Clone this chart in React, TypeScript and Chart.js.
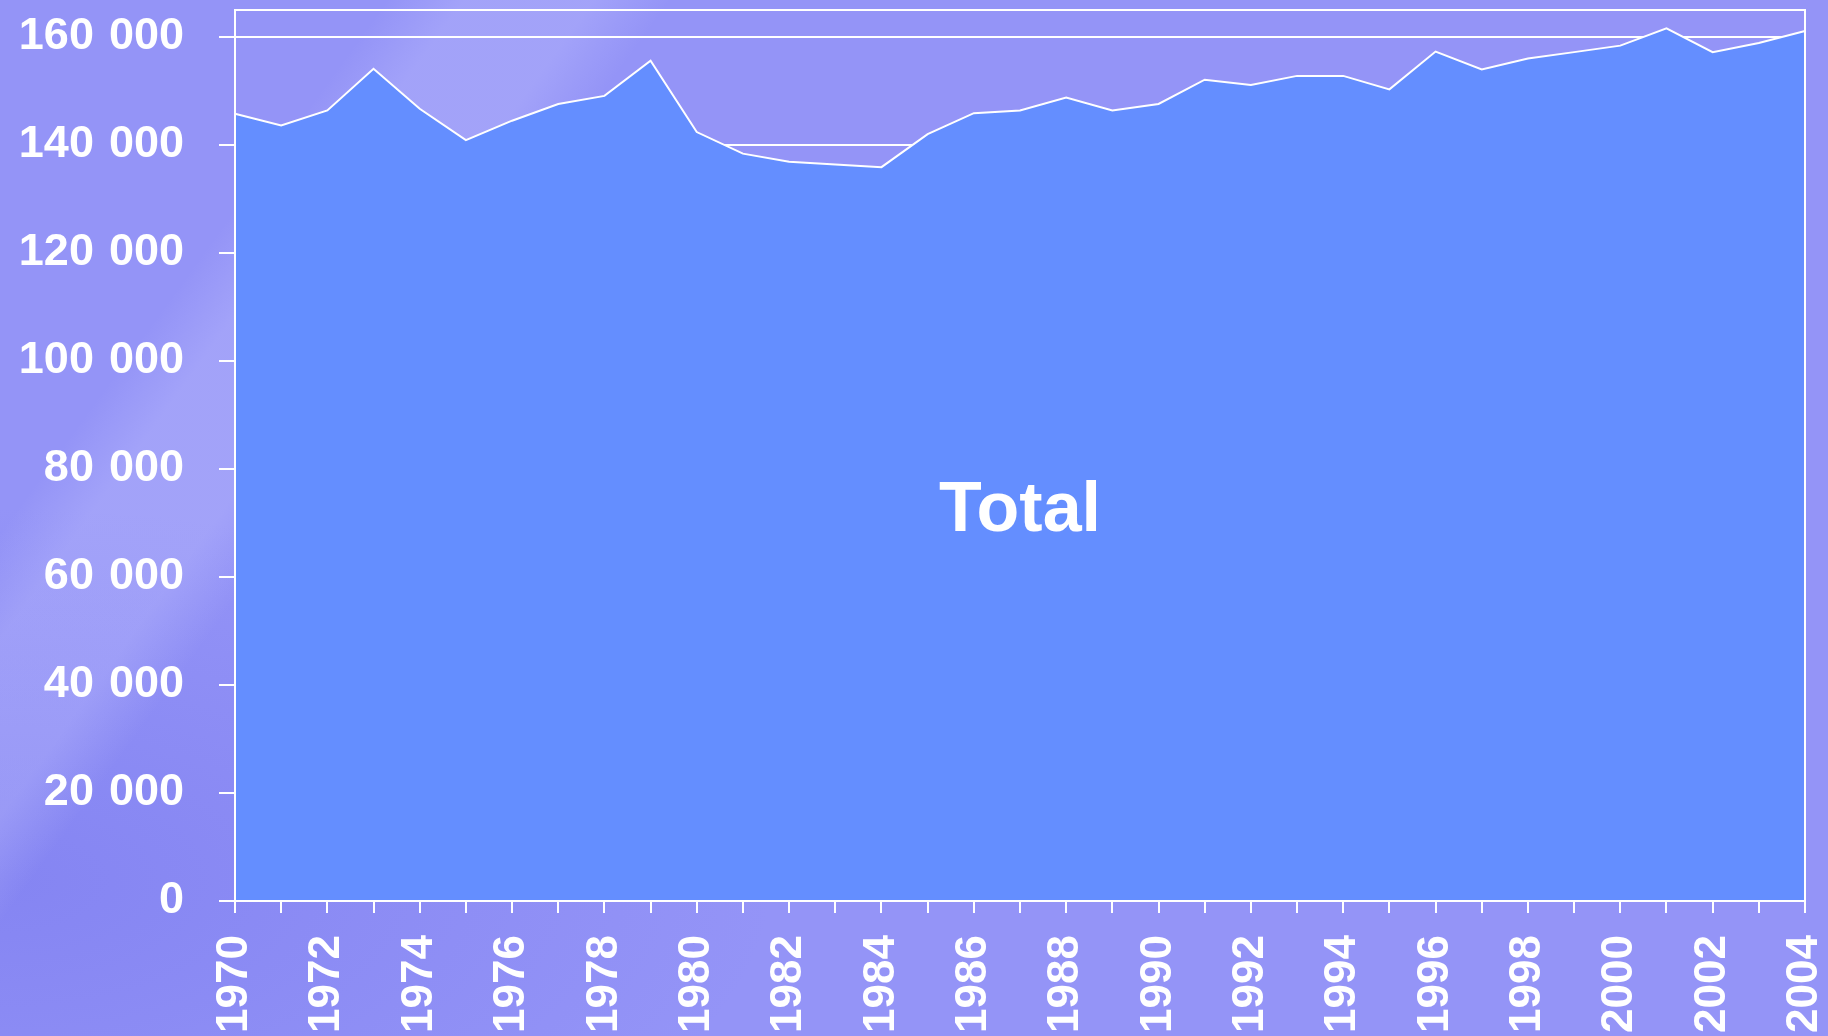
import React, { useEffect, useRef } from "react";
import { Chart, registerables } from "chart.js";

Chart.register(...registerables);

const years: string[] = [
  "1970", "1971", "1972", "1973", "1974", "1975", "1976", "1977", "1978", "1979",
  "1980", "1981", "1982", "1983", "1984", "1985", "1986", "1987", "1988", "1989",
  "1990", "1991", "1992", "1993", "1994", "1995", "1996", "1997", "1998", "1999",
  "2000", "2001", "2002", "2003", "2004",
];

const totalValues: number[] = [
  145800, 143600, 146400, 154100, 146700, 140900, 144500, 147600, 149100, 155600,
  142400, 138400, 136900, 136400, 135900, 142000, 145900, 146400, 148800, 146400,
  147600, 152100, 151100, 152800, 152800, 150300, 157300, 154000, 156000, 157200,
  158400, 161600, 157200, 158900, 161100,
];

const yTickValues: number[] = [0, 20000, 40000, 60000, 80000, 100000, 120000, 140000, 160000];

const seriesLabel = "Total";
const yMin = 0;
const yMax = 165000;

const FONT = '"Liberation Sans", Arial, Helvetica, sans-serif';

function formatThousands(v: number): string {
  return String(v).replace(/\B(?=(\d{3})+(?!\d))/g, "\u2004");
}

const framePlugin = {
  id: "frame",
  afterDraw(chart: any) {
    const { ctx, chartArea } = chart;
    ctx.save();
    ctx.strokeStyle = "#ffffff";
    ctx.lineWidth = 2;
    ctx.strokeRect(chartArea.left, chartArea.top, chartArea.right - chartArea.left, chartArea.bottom - chartArea.top);
    ctx.restore();
  },
};

const titlePlugin = {
  id: "centerTitle",
  afterDatasetsDraw(chart: any) {
    const { ctx, scales } = chart;
    const x = scales.x.getPixelForValue(17);
    const y = scales.y.getPixelForValue(68500);
    ctx.save();
    ctx.fillStyle = "#ffffff";
    ctx.font = `bold 70px ${FONT}`;
    ctx.textAlign = "center";
    ctx.textBaseline = "alphabetic";
    ctx.fillText(seriesLabel, x, y);
    ctx.restore();
  },
};

export default function App() {
  const canvasRef = useRef<HTMLCanvasElement | null>(null);

  useEffect(() => {
    document.body.style.margin = "0";
    const canvas = canvasRef.current;
    if (!canvas) return;
    const chart = new Chart(canvas, {
      type: "line",
      data: {
        labels: years,
        datasets: [
          {
            label: seriesLabel,
            data: totalValues,
            fill: "origin",
            backgroundColor: "#648EFF",
            borderColor: "#ffffff",
            borderWidth: 2,
            pointRadius: 0,
            tension: 0,
          },
        ],
      },
      options: {
        responsive: false,
        maintainAspectRatio: false,
        animation: false,
        layout: { padding: { left: 0, right: 23, top: 10, bottom: 0 } },
        plugins: {
          legend: { display: false },
          tooltip: { enabled: false },
        },
        scales: {
          x: {
            type: "category",
            offset: false,
            grid: {
              display: true,
              drawOnChartArea: false,
              drawTicks: true,
              tickLength: 12,
              color: "#ffffff",
              lineWidth: 2,
            },
            border: { display: true, color: "#ffffff", width: 2 },
            ticks: {
              autoSkip: false,
              minRotation: 90,
              maxRotation: 90,
              padding: 22,
              color: "#ffffff",
              font: { family: FONT, size: 44, weight: "bold" },
              callback: (_v: any, i: number) => (i % 2 === 0 ? years[i] : ""),
            },
            afterFit: (scale: any) => {
              scale.height = 135;
              scale.paddingLeft = 0;
              scale.paddingRight = 0;
            },
          },
          y: {
            min: yMin,
            max: yMax,
            grid: {
              display: true,
              drawOnChartArea: true,
              drawTicks: true,
              tickLength: 16,
              color: "#ffffff",
              lineWidth: 2,
            },
            border: { display: true, color: "#ffffff", width: 2 },
            ticks: {
              padding: 35,
              color: "#ffffff",
              font: { family: FONT, size: 45, weight: "bold" },
              callback: (v: any) => formatThousands(Number(v)),
            },
            afterBuildTicks: (scale: any) => {
              scale.ticks = yTickValues.map((v) => ({ value: v }));
            },
            afterFit: (scale: any) => {
              scale.width = 235;
              scale.paddingTop = 0;
              scale.paddingBottom = 0;
            },
          },
        },
      },
      plugins: [titlePlugin, framePlugin],
    } as any);
    return () => chart.destroy();
  }, []);

  return (
    <div
      style={{
        position: "absolute",
        left: 0,
        top: 0,
        width: 1828,
        height: 1036,
        overflow: "hidden",
        background:
          "linear-gradient(126deg, rgba(255,255,255,0) 0%, rgba(255,255,255,0) 15%, rgba(200,200,255,0.28) 18%, rgba(200,200,255,0.28) 23%, rgba(255,255,255,0) 26%, rgba(255,255,255,0) 100%), " +
          "radial-gradient(ellipse at 0% 85%, rgba(110,110,235,0.4) 0%, rgba(110,110,235,0) 30%), " +
          "#9494F7",
      }}
    >
      <canvas ref={canvasRef} width={1828} height={1036} style={{ display: "block" }} />
    </div>
  );
}
